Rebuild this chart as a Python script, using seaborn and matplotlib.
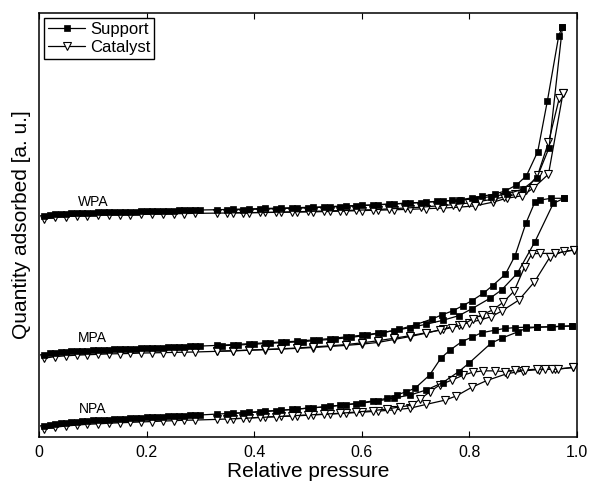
import numpy as np
import pandas as pd
import seaborn as sns
import matplotlib
matplotlib.use("Agg")
import matplotlib.pyplot as plt
from matplotlib.lines import Line2D

# ---------------- data (arbitrary units 0-100) ----------------
P_LOW_S = [0.01, 0.02, 0.03, 0.04, 0.05, 0.06, 0.07, 0.08, 0.09, 0.10,
           0.11, 0.12, 0.13, 0.14, 0.15, 0.16, 0.17, 0.18, 0.19, 0.20,
           0.21, 0.22, 0.23, 0.24, 0.25, 0.26, 0.27, 0.28, 0.29, 0.30]
P_LOW_C = [0.01, 0.03, 0.05, 0.07, 0.09, 0.11, 0.13, 0.15, 0.17, 0.19,
           0.21, 0.23, 0.25, 0.27, 0.29]
P_MID = [0.33, 0.36, 0.39, 0.42, 0.45, 0.48, 0.51, 0.54, 0.57, 0.60, 0.63, 0.66, 0.69]

# --- NPA ---
npa_sup_low = [2.6, 2.9, 3.1, 3.3, 3.4, 3.5, 3.6, 3.7, 3.8, 3.9,
               4.0, 4.05, 4.1, 4.2, 4.25, 4.3, 4.4, 4.45, 4.5, 4.6,
               4.65, 4.7, 4.8, 4.85, 4.9, 5.0, 5.05, 5.1, 5.15, 5.2]
npa_sup_mid = [5.4, 5.6, 5.8, 6.1, 6.3, 6.6, 6.9, 7.2, 7.6, 8.0, 8.5, 9.2, 9.9]
npa_sup_hi_p = [0.72, 0.75, 0.78, 0.80, 0.84, 0.86, 0.89, 0.905, 0.925, 0.953, 0.99]
npa_sup_hi_q = [11.1, 12.8, 15.4, 17.5, 22.1, 23.3, 24.8, 25.6, 25.9, 26.0, 26.2]
npa_sup_des_p = [0.99, 0.97, 0.95, 0.925, 0.906, 0.885, 0.866, 0.848, 0.823, 0.804,
                 0.786, 0.764, 0.747, 0.726, 0.699, 0.683, 0.665, 0.646, 0.62, 0.59,
                 0.56, 0.53, 0.50, 0.47, 0.44, 0.41, 0.38, 0.35]
npa_sup_des_q = [26.2, 26.1, 26.0, 25.9, 25.9, 25.8, 25.6, 25.2, 24.6, 23.5,
                 22.5, 20.5, 18.6, 14.6, 11.5, 10.7, 9.9, 9.1, 8.5, 7.9,
                 7.5, 7.1, 6.8, 6.5, 6.2, 5.9, 5.7, 5.5]

npa_cat_low = [1.9, 2.3, 2.6, 2.8, 3.0, 3.1, 3.25, 3.35, 3.45, 3.55,
               3.65, 3.75, 3.85, 3.95, 4.0]
npa_cat_mid = [4.15, 4.3, 4.5, 4.7, 4.85, 5.0, 5.2, 5.4, 5.6, 5.85, 6.1, 6.4, 6.8]
npa_cat_hi_p = [0.72, 0.755, 0.776, 0.804, 0.832, 0.869, 0.90, 0.93, 0.96, 0.993]
npa_cat_hi_q = [7.7, 8.7, 9.7, 11.7, 13.3, 14.9, 15.6, 15.9, 16.0, 16.4]
npa_cat_des_p = [0.993, 0.965, 0.953, 0.940, 0.925, 0.903, 0.885, 0.866, 0.848, 0.826,
                 0.807, 0.789, 0.767, 0.745, 0.727, 0.708, 0.693, 0.671, 0.646, 0.62,
                 0.59, 0.56, 0.53, 0.50, 0.47, 0.44, 0.41, 0.38, 0.35]
npa_cat_des_q = [16.4, 16.0, 16.0, 16.0, 16.0, 15.8, 15.7, 15.4, 15.6, 15.6,
                 15.3, 14.6, 13.4, 12.3, 10.7, 8.9, 7.5, 7.1, 6.6, 6.2,
                 5.9, 5.6, 5.4, 5.2, 5.0, 4.8, 4.6, 4.4, 4.25]

# --- MPA ---
mpa_sup_low = [19.4, 19.7, 19.9, 20.0, 20.1, 20.2, 20.3, 20.35, 20.4, 20.45,
               20.5, 20.55, 20.6, 20.65, 20.7, 20.75, 20.8, 20.85, 20.9, 20.95,
               21.0, 21.05, 21.1, 21.15, 21.2, 21.25, 21.3, 21.35, 21.4, 21.45]
mpa_sup_mid = [21.6, 21.8, 22.0, 22.2, 22.4, 22.6, 22.9, 23.2, 23.6, 24.0, 24.5, 25.1, 25.8]
mpa_sup_hi_p = [0.72, 0.75, 0.78, 0.804, 0.838, 0.86, 0.889, 0.922, 0.956, 0.976]
mpa_sup_hi_q = [26.6, 27.5, 28.6, 30.2, 32.7, 34.7, 38.6, 46.1, 55.1, 56.3]
mpa_sup_des_p = [0.976, 0.952, 0.932, 0.922, 0.905, 0.885, 0.867, 0.843, 0.826, 0.804,
                 0.788, 0.770, 0.749, 0.73, 0.70, 0.67, 0.64, 0.61, 0.58, 0.55,
                 0.52, 0.49, 0.46, 0.43, 0.40, 0.37, 0.34]
mpa_sup_des_q = [56.3, 56.3, 55.9, 55.5, 50.4, 42.8, 38.4, 35.7, 33.9, 32.1,
                 31.0, 29.8, 28.8, 27.8, 26.5, 25.4, 24.6, 24.0, 23.5, 23.1,
                 22.8, 22.5, 22.3, 22.1, 21.9, 21.7, 21.55]

mpa_cat_low = [18.6, 18.95, 19.15, 19.3, 19.4, 19.5, 19.6, 19.65, 19.7, 19.8,
               19.85, 19.9, 19.95, 20.0, 20.05]
mpa_cat_mid = [20.2, 20.3, 20.45, 20.6, 20.75, 20.9, 21.1, 21.35, 21.6, 21.9, 22.3, 23.0, 23.7]
mpa_cat_hi_p = [0.72, 0.75, 0.78, 0.80, 0.82, 0.841, 0.86, 0.892, 0.921, 0.95, 0.975, 0.995]
mpa_cat_hi_q = [24.5, 25.4, 26.4, 27.0, 27.6, 28.4, 29.7, 32.3, 36.6, 42.5, 43.8, 44.1]
mpa_cat_des_p = [0.995, 0.959, 0.931, 0.916, 0.903, 0.883, 0.863, 0.844, 0.823, 0.806,
                 0.786, 0.767, 0.745, 0.72, 0.69, 0.66, 0.63, 0.60, 0.57, 0.54,
                 0.51, 0.48, 0.45, 0.42, 0.39, 0.36, 0.33]
mpa_cat_des_q = [44.1, 43.3, 43.3, 43.2, 40.2, 34.4, 31.8, 30.0, 28.8, 27.8,
                 26.4, 25.8, 25.2, 24.6, 23.9, 23.3, 22.7, 22.2, 21.8, 21.5,
                 21.25, 21.0, 20.8, 20.65, 20.5, 20.35, 20.25]

# --- WPA ---
wpa_sup_low = [52.2, 52.4, 52.55, 52.65, 52.7, 52.75, 52.8, 52.85, 52.9, 52.93,
               52.96, 53.0, 53.03, 53.06, 53.09, 53.12, 53.15, 53.18, 53.21, 53.24,
               53.27, 53.3, 53.33, 53.36, 53.39, 53.42, 53.45, 53.48, 53.51, 53.54]
wpa_sup_mid = [53.6, 53.7, 53.8, 53.9, 54.0, 54.1, 54.2, 54.35, 54.5, 54.65, 54.8, 55.0, 55.2]
wpa_sup_hi_p = [0.72, 0.75, 0.78, 0.81, 0.84, 0.87, 0.90, 0.925, 0.948, 0.973]
wpa_sup_hi_q = [55.4, 55.6, 55.9, 56.2, 56.7, 57.3, 58.5, 61.0, 68.2, 96.8]
wpa_sup_des_p = [0.973, 0.966, 0.945, 0.927, 0.906, 0.887, 0.866, 0.847, 0.824, 0.805,
                 0.785, 0.768, 0.74, 0.71, 0.68, 0.65, 0.62, 0.59, 0.56, 0.53,
                 0.50, 0.47, 0.44, 0.41, 0.38, 0.35]
wpa_sup_des_q = [96.8, 94.6, 79.3, 67.3, 61.6, 59.4, 58.0, 57.3, 56.8, 56.4,
                 56.0, 55.8, 55.6, 55.3, 55.1, 54.9, 54.7, 54.5, 54.35, 54.2,
                 54.05, 53.95, 53.85, 53.75, 53.65, 53.6]

wpa_cat_low = [51.4, 51.8, 52.0, 52.1, 52.2, 52.3, 52.35, 52.4, 52.45, 52.5,
               52.55, 52.6, 52.65, 52.7, 52.75]
wpa_cat_mid = [52.8, 52.85, 52.9, 52.95, 53.0, 53.05, 53.1, 53.2, 53.3, 53.4, 53.5, 53.6, 53.7]
wpa_cat_hi_p = [0.72, 0.75, 0.78, 0.81, 0.844, 0.869, 0.898, 0.919, 0.947, 0.974]
wpa_cat_hi_q = [53.85, 54.0, 54.2, 54.5, 55.4, 56.3, 56.9, 58.7, 62.0, 81.1]
wpa_cat_des_p = [0.974, 0.967, 0.947, 0.927, 0.905, 0.885, 0.865, 0.845, 0.82, 0.80,
                 0.77, 0.74, 0.71, 0.68, 0.65, 0.62, 0.59, 0.56, 0.53, 0.50,
                 0.47, 0.44, 0.41, 0.38, 0.35]
wpa_cat_des_q = [81.1, 79.9, 69.5, 61.8, 58.3, 57.2, 56.6, 56.1, 55.6, 55.2,
                 54.8, 54.5, 54.2, 54.0, 53.8, 53.6, 53.5, 53.4, 53.3, 53.2,
                 53.1, 53.0, 52.95, 52.9, 52.85]

SAMPLE_LABELS = ["WPA", "MPA", "NPA"]
SAMPLE_LABEL_Y = [55.5, 23.3, 6.5]
X_TICKS = [0, 0.2, 0.4, 0.6, 0.8, 1.0]
X_TICK_LABELS = ["0", "0.2", "0.4", "0.6", "0.8", "1.0"]

# ---------------- assemble long table ----------------
rows = []
def add(sample, material, branch, ps, qs):
    for p, q in zip(ps, qs):
        rows.append(dict(sample=sample, material=material, curve=f"{sample}-{material}-{branch}", p=p, q=q))

add("NPA", "Support", "ads", P_LOW_S + P_MID + npa_sup_hi_p, npa_sup_low + npa_sup_mid + npa_sup_hi_q)
add("NPA", "Support", "des", npa_sup_des_p, npa_sup_des_q)
add("NPA", "Catalyst", "ads", P_LOW_C + P_MID + npa_cat_hi_p, npa_cat_low + npa_cat_mid + npa_cat_hi_q)
add("NPA", "Catalyst", "des", npa_cat_des_p, npa_cat_des_q)
add("MPA", "Support", "ads", P_LOW_S + P_MID + mpa_sup_hi_p, mpa_sup_low + mpa_sup_mid + mpa_sup_hi_q)
add("MPA", "Support", "des", mpa_sup_des_p, mpa_sup_des_q)
add("MPA", "Catalyst", "ads", P_LOW_C + P_MID + mpa_cat_hi_p, mpa_cat_low + mpa_cat_mid + mpa_cat_hi_q)
add("MPA", "Catalyst", "des", mpa_cat_des_p, mpa_cat_des_q)
add("WPA", "Support", "ads", P_LOW_S + P_MID + wpa_sup_hi_p, wpa_sup_low + wpa_sup_mid + wpa_sup_hi_q)
add("WPA", "Support", "des", wpa_sup_des_p, wpa_sup_des_q)
add("WPA", "Catalyst", "ads", P_LOW_C + P_MID + wpa_cat_hi_p, wpa_cat_low + wpa_cat_mid + wpa_cat_hi_q)
add("WPA", "Catalyst", "des", wpa_cat_des_p, wpa_cat_des_q)
df = pd.DataFrame(rows)

# ---------------- plot ----------------
sns.set_style("ticks")
plt.rcParams["font.family"] = ["Liberation Sans", "DejaVu Sans"]
plt.rcParams["text.color"] = "black"
plt.rcParams["axes.labelcolor"] = "black"
plt.rcParams["xtick.color"] = "black"
plt.rcParams["ytick.color"] = "black"

fig = plt.figure(figsize=(5.93, 4.87), dpi=100)
ax = fig.add_axes([39/593, 1-437/487, (577-39)/593, (437-13)/487])

styles = {
    "Catalyst": dict(marker="v", markersize=5.5, markerfacecolor="white",
                     markeredgecolor="black", markeredgewidth=0.8),
    "Support": dict(marker="s", markersize=4, markerfacecolor="black",
                    markeredgecolor="black", markeredgewidth=0.5),
}
for mat in ["Catalyst", "Support"]:
    sub = df[df["material"] == mat]
    sns.lineplot(data=sub, x="p", y="q", units="curve", estimator=None,
                 color="black", linewidth=0.9, ax=ax, legend=False, **styles[mat])

for lab, y in zip(SAMPLE_LABELS, SAMPLE_LABEL_Y):
    ax.text(0.10, y, lab, ha="center", va="center", fontsize=10, color="black")

ax.set_xlim(0, 1.0)
ax.set_ylim(0, 100)
ax.set_xticks(X_TICKS)
ax.set_xticklabels(X_TICK_LABELS, fontsize=11.5)
ax.set_yticks([])
ax.tick_params(axis="x", direction="in", top=True, length=4, width=0.8, pad=6, colors="black")
ax.set_xlabel("Relative pressure", fontsize=15, labelpad=1, color="black")
ax.set_ylabel("Quantity adsorbed [a. u.]", fontsize=15, labelpad=6, color="black")
for s in ax.spines.values():
    s.set_linewidth(1.1)
    s.set_color("black")

handles = [
    Line2D([0], [0], color="black", linewidth=0.9, **styles["Support"]),
    Line2D([0], [0], color="black", linewidth=0.9, **styles["Catalyst"]),
]
leg = ax.legend(handles, ["Support", "Catalyst"], loc="upper left", fontsize=12,
                frameon=True, fancybox=False, edgecolor="black", framealpha=1,
                handlelength=2.2, handletextpad=0.3, borderpad=0.25,
                labelspacing=0.15, borderaxespad=0.3)
leg.get_frame().set_linewidth(1.0)
for t in leg.get_texts():
    t.set_color("black")

fig.savefig("out.png", dpi=100)
